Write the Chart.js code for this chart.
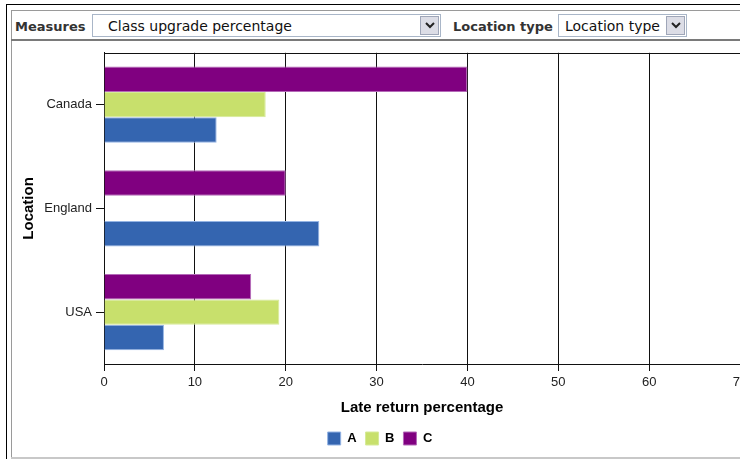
<!DOCTYPE html>
<html>
<head>
<meta charset="utf-8">
<script src="https://cdn.jsdelivr.net/npm/chart.js@4.4.1/dist/chart.umd.min.js"></script>
<style>
  html, body { margin: 0; padding: 0; background: #fff; width: 740px; height: 459px; overflow: hidden; position: relative; }
  .ln { position: absolute; z-index: 5; }
  .lbl { position: absolute; font-family: "DejaVu Sans", Verdana, sans-serif; font-weight: bold; font-size: 13px; color: #333; top: 19px; }
  .sel { position: absolute; top: 14px; height: 23px; border: 1px solid #a9b6c8; background: #fff; box-sizing: border-box; }
  .sel span { position: absolute; top: 3px; font-family: "DejaVu Sans", Verdana, sans-serif; font-size: 14px; color: #111; white-space: nowrap; }
  .btn { position: absolute; top: 1px; right: 1px; width: 19px; height: 19px; background: #dcdde6; border: 1px solid #9fa6b8; box-sizing: border-box; }
  .btn svg { position: absolute; left: 4px; top: 4px; }
  #wrap { position: absolute; left: 0; top: 41px; width: 760px; height: 418px; }
</style>
</head>
<body>
<!-- frame lines -->
<div class="ln" style="left:6px;top:4px;width:734px;height:1px;background:#000"></div>
<div class="ln" style="left:6px;top:4px;width:1px;height:455px;background:#000"></div>
<div class="ln" style="left:11px;top:10px;width:729px;height:1px;background:#9a9a9a"></div>
<div class="ln" style="left:11px;top:10px;width:1px;height:449px;background:#9a9a9a"></div>
<div class="ln" style="left:11px;top:39px;width:729px;height:2px;background:#7a7a7a"></div>
<div class="ln" style="left:11px;top:457px;width:729px;height:2px;background:#c8c8c8"></div>

<!-- toolbar -->
<div class="lbl" style="left:15px">Measures</div>
<div class="sel" style="left:92px;width:349px"><span style="left:15px">Class upgrade percentage</span>
  <div class="btn"><svg width="10" height="9"><polyline points="1,2 5,6 9,2" fill="none" stroke="#222" stroke-width="2"/></svg></div>
</div>
<div class="lbl" style="left:453px">Location type</div>
<div class="sel" style="left:558px;width:129px"><span style="left:6px">Location type</span>
  <div class="btn"><svg width="10" height="9"><polyline points="1,2 5,6 9,2" fill="none" stroke="#222" stroke-width="2"/></svg></div>
</div>

<div id="wrap"><canvas id="c" width="760" height="418"></canvas></div>

<script>
const categories = ["Canada", "England", "USA"];
const seriesA = [12.4, 23.7, 6.6];
const seriesB = [17.8, null, 19.3];
const seriesC = [40, 20, 16.2];
const xTicks = [0, 10, 20, 30, 40, 50, 60, 70];

Chart.defaults.font.family = "'Liberation Sans', Arial, sans-serif";

const frame = {
  id: 'frame',
  beforeDatasetsDraw(chart) {
    const {ctx, chartArea} = chart;
    ctx.save();
    ctx.strokeStyle = '#111';
    ctx.lineWidth = 1;
    ctx.beginPath();
    ctx.moveTo(chartArea.left, Math.round(chartArea.top) + 0.5);
    ctx.lineTo(chartArea.right + 20, Math.round(chartArea.top) + 0.5);
    ctx.stroke();
    ctx.restore();
  }
};

new Chart(document.getElementById('c'), {
  type: 'bar',
  data: {
    labels: categories,
    datasets: [
      { label: 'C', data: seriesC, backgroundColor: '#800080', borderColor: '#b46ab8', borderWidth: 1 },
      { label: 'B', data: seriesB, backgroundColor: '#c8e06c', borderColor: '#d6ea98', borderWidth: 1 },
      { label: 'A', data: seriesA, backgroundColor: '#3465b0', borderColor: '#94b4e4', borderWidth: 1 }
    ]
  },
  options: {
    indexAxis: 'y',
    responsive: false,
    animation: false,
    devicePixelRatio: 1,
    datasets: { bar: { categoryPercentage: 0.735, barPercentage: 1 } },
    layout: { autoPadding: false, padding: { left: 20, right: 20, top: 10, bottom: 4 } },
    plugins: {
      tooltip: { enabled: false },
      legend: {
        position: 'bottom',
        reverse: true,
        labels: {
          boxWidth: 13, boxHeight: 13, padding: 9,
          color: '#000',
          font: { size: 13, weight: 'bold' }
        }
      }
    },
    scales: {
      x: {
        type: 'linear',
        min: 0, max: 70,
        afterBuildTicks(scale) { scale.ticks = xTicks.map(v => ({ value: v })); },
        afterFit(scale) { scale.height = 59; },
        ticks: { color: '#222', font: { size: 13 }, padding: 4, callback: v => String(v) },
        grid: { color: '#111', lineWidth: 1, tickLength: 7, drawTicks: true },
        border: { display: true, color: '#111' },
        title: { display: true, text: 'Late return percentage', color: '#000', font: { size: 15, weight: 'bold' }, padding: { top: 0, bottom: 6 } }
      },
      y: {
        afterFit(scale) { scale.width = 84; },
        ticks: { color: '#222', font: { size: 13 }, padding: 4 },
        grid: { display: true, drawOnChartArea: false, drawTicks: true, tickLength: 8, offset: false, color: '#111' },
        border: { display: true, color: '#111' },
        title: { display: true, text: 'Location', color: '#000', font: { size: 15, weight: 'bold' }, padding: { top: 0, bottom: 0 } }
      }
    }
  },
  plugins: [frame]
});
</script>
</body>
</html>
